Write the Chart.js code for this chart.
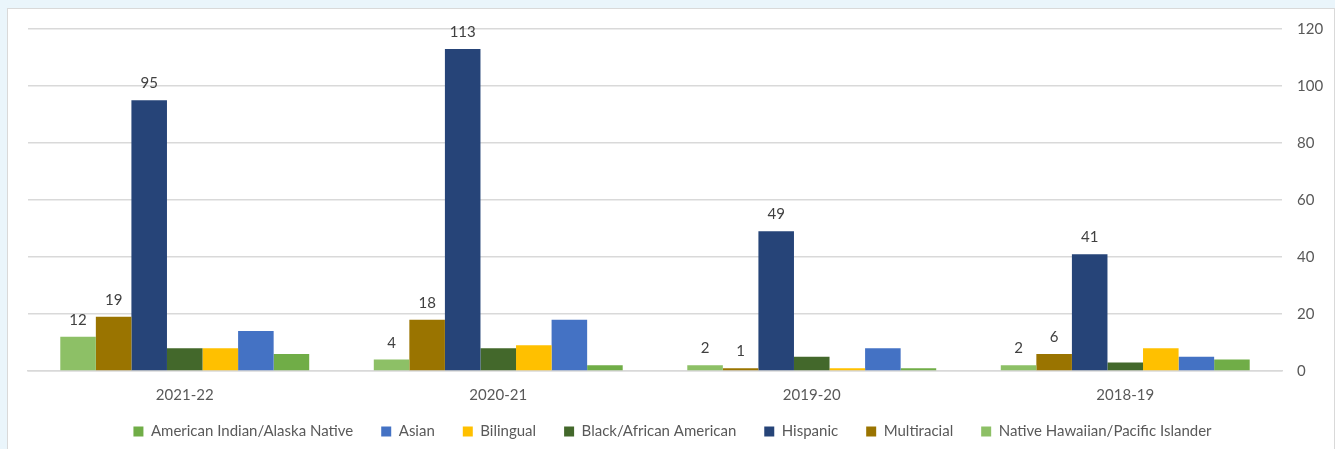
<!DOCTYPE html>
<html>
<head>
<meta charset="utf-8">
<script src="https://cdn.jsdelivr.net/npm/chart.js@4"></script>
<style>
  html,body{margin:0;padding:0;background:#EAF5FB;width:1335px;height:449px;overflow:hidden;}
  #panel{position:absolute;left:7px;top:8px;width:1326px;height:445px;background:#fff;border:1px solid #D9D9D9;}
  #wrap{position:absolute;left:0;top:0;width:1335px;height:449px;}
</style>
</head>
<body>
<div id="panel"></div>
<div id="wrap"><canvas id="c" width="1335" height="449"></canvas></div>
<script>
const categories = ["2021-22", "2020-21", "2019-20", "2018-19"];
const yTicks = [0, 20, 40, 60, 80, 100, 120];

const nativeHawaiian = [12, 4, 2, 2];
const multiracial    = [19, 18, 1, 6];
const hispanic       = [95, 113, 49, 41];
const black          = [8, 8, 5, 3];
const bilingual      = [8, 9, 1, 8];
const asian          = [14, 18, 8, 5];
const americanIndian = [6, 2, 1, 4];

const seriesNames = {
  nh: "Native Hawaiian/Pacific Islander",
  multi: "Multiracial",
  hisp: "Hispanic",
  black: "Black/African American",
  bil: "Bilingual",
  asian: "Asian",
  ai: "American Indian/Alaska Native"
};

const datasets = [
  {label: seriesNames.nh, data: nativeHawaiian, backgroundColor: "#8DC066", showLabel: true},
  {label: seriesNames.multi, data: multiracial, backgroundColor: "#9A7400", showLabel: true},
  {label: seriesNames.hisp, data: hispanic, backgroundColor: "#264478", showLabel: true},
  {label: seriesNames.black, data: black, backgroundColor: "#43682B"},
  {label: seriesNames.bil, data: bilingual, backgroundColor: "#FFC000"},
  {label: seriesNames.asian, data: asian, backgroundColor: "#4472C4"},
  {label: seriesNames.ai, data: americanIndian, backgroundColor: "#70AD47"}
];

const FONT = "Lato, 'Liberation Sans', Arial, sans-serif";

const valueLabels = {
  id: "valueLabels",
  afterDatasetsDraw(chart) {
    const ctx = chart.ctx;
    ctx.save();
    ctx.font = "15px " + FONT;
    ctx.fillStyle = "#404040";
    ctx.textAlign = "center";
    ctx.textBaseline = "alphabetic";
    chart.data.datasets.forEach((ds, i) => {
      if (!ds.showLabel) return;
      const meta = chart.getDatasetMeta(i);
      meta.data.forEach((bar, j) => {
        ctx.fillText(String(ds.data[j]), bar.x, bar.y - 12);
      });
    });
    ctx.restore();
  }
};

new Chart(document.getElementById("c"), {
  type: "bar",
  data: {labels: categories, datasets: datasets},
  options: {
    responsive: false,
    animation: false,
    devicePixelRatio: 1,
    layout: {padding: {left: 28, right: 18, top: 29, bottom: 0}},
    datasets: {bar: {categoryPercentage: 0.794, barPercentage: 1.0, borderWidth: 0}},
    scales: {
      x: {
        grid: {display: false, drawTicks: false},
        border: {display: true, color: "#D9D9D9", width: 1.5},
        ticks: {color: "#595959", font: {family: FONT, size: 15}, padding: 15},
        afterFit(axis) { axis.height = 25; axis._computeLabelArea = () => undefined; }
      },
      y: {
        position: "right",
        min: 0, max: 120,
        afterBuildTicks(axis) { axis.ticks = yTicks.map(v => ({value: v})); },
        grid: {color: "#D9D9D9", lineWidth: 1.5, drawTicks: false},
        border: {display: false},
        ticks: {color: "#595959", font: {family: FONT, size: 15}, padding: 15},
        afterFit(axis) { axis.width = 35; axis._computeLabelArea = () => undefined; }
      }
    },
    plugins: {
      tooltip: {enabled: false},
      legend: {
        position: "bottom",
        reverse: true,
        labels: {
          color: "#595959",
          font: {family: FONT, size: 15},
          boxWidth: 10, boxHeight: 10,
          padding: 28
        }
      }
    }
  },
  plugins: [valueLabels]
});
</script>
</body>
</html>
